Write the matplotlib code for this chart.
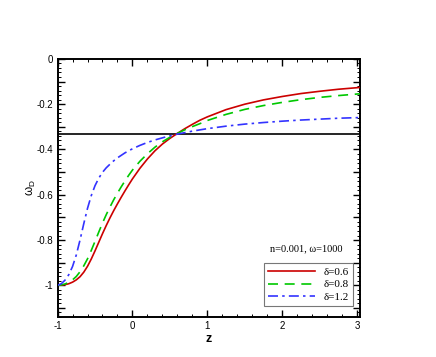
import matplotlib
matplotlib.use("Agg")
import matplotlib.pyplot as plt
from matplotlib.ticker import MultipleLocator, FuncFormatter

# ---- data ----
z_red = [-1.0, -0.95, -0.9, -0.85, -0.8, -0.75, -0.7, -0.65, -0.6, -0.55, -0.5, -0.45, -0.4,
         -0.35, -0.3, -0.25, -0.2, -0.15, -0.1, -0.05, 0.0, 0.1, 0.2, 0.3, 0.4, 0.5, 0.6, 0.7,
         0.8, 0.9, 1.0, 1.25, 1.5, 1.75, 2.0, 2.25, 2.5, 2.75, 3.04]
w_red = [-1.0, -0.999, -0.997, -0.993, -0.986, -0.976, -0.962, -0.942, -0.916, -0.884, -0.848,
         -0.810, -0.772, -0.736, -0.702, -0.670, -0.640, -0.611, -0.583, -0.556, -0.530, -0.483,
         -0.442, -0.406, -0.376, -0.351, -0.329, -0.308, -0.289, -0.271, -0.256, -0.224, -0.200,
         -0.181, -0.166, -0.153, -0.143, -0.134, -0.126]

z_green = [-1.0, -0.95, -0.9, -0.85, -0.8, -0.75, -0.7, -0.65, -0.6, -0.55, -0.5, -0.45, -0.4,
           -0.35, -0.3, -0.25, -0.2, -0.15, -0.1, -0.05, 0.0, 0.1, 0.2, 0.3, 0.4, 0.5, 0.6, 0.7,
           0.8, 0.9, 1.0, 1.25, 1.5, 1.75, 2.0, 2.25, 2.5, 2.75, 3.04]
w_green = [-1.0, -0.998, -0.994, -0.987, -0.976, -0.961, -0.940, -0.914, -0.883, -0.846, -0.806,
           -0.765, -0.725, -0.688, -0.654, -0.622, -0.593, -0.565, -0.539, -0.514, -0.491, -0.452,
           -0.419, -0.390, -0.366, -0.346, -0.329, -0.313, -0.299, -0.286, -0.272, -0.245, -0.223,
           -0.206, -0.192, -0.180, -0.170, -0.162, -0.154]

z_blue = [-1.0, -0.95, -0.9, -0.85, -0.8, -0.75, -0.7, -0.65, -0.6, -0.55, -0.5, -0.45, -0.4,
          -0.35, -0.3, -0.25, -0.2, -0.1, 0.0, 0.1, 0.2, 0.3, 0.45, 0.6, 0.8, 1.0, 1.25, 1.5,
          1.75, 2.0, 2.25, 2.5, 2.75, 3.04]
w_blue = [-1.0, -0.993, -0.977, -0.953, -0.917, -0.866, -0.800, -0.728, -0.660, -0.604, -0.560,
          -0.527, -0.501, -0.481, -0.465, -0.450, -0.437, -0.415, -0.397, -0.382, -0.369, -0.358,
          -0.344, -0.332, -0.319, -0.308, -0.297, -0.288, -0.281, -0.275, -0.270, -0.266, -0.262,
          -0.259]

w_ref = -1.0 / 3.0
labels = ["δ=0.6", "δ=0.8", "δ=1.2"]
annot = "n=0.001, ω=1000"

# ---- figure ----
fig = plt.figure(figsize=(4.36, 3.57), dpi=100)
ax = fig.add_axes([0.132, 0.112, 0.694, 0.723])

ax.axhline(w_ref, color="black", lw=1.2, zorder=1)
ax.plot(z_red, w_red, color="#cc0000", lw=1.2, ls="-", label=labels[0], zorder=3)
ax.plot(z_green, w_green, color="#00c800", lw=1.2, ls=(0, (6, 4)), label=labels[1], zorder=3)
ax.plot(z_blue, w_blue, color="#3333ff", lw=1.2, ls=(0, (6, 2.5, 1.5, 2.5)), label=labels[2], zorder=3)

ax.set_xlim(-1, 3.04)
ax.set_ylim(-1.14, 0)

ax.xaxis.set_major_locator(MultipleLocator(1))
ax.xaxis.set_minor_locator(MultipleLocator(0.2))
ax.yaxis.set_major_locator(MultipleLocator(0.1))
ax.yaxis.set_minor_locator(MultipleLocator(0.02))


def yfmt(v, pos):
    k = int(round(v * 10))
    if k % 2 != 0:
        return ""
    if k == 0:
        return "0"
    if k == -10:
        return "-1"
    return "%g" % (k / 10.0)


ax.yaxis.set_major_formatter(FuncFormatter(yfmt))
ax.xaxis.set_major_formatter(FuncFormatter(lambda v, p: "%d" % round(v)))

ax.tick_params(which="both", direction="in", top=True, right=True,
               labelsize=7, pad=3)
ax.tick_params(which="major", length=5, width=1.0)
ax.tick_params(which="minor", length=2.5, width=0.7)
for lab in ax.get_xticklabels() + ax.get_yticklabels():
    lab.set_fontfamily("Liberation Sans")

for s in ax.spines.values():
    s.set_linewidth(1.4)

ax.set_xlabel("z", fontsize=9, fontweight="bold", family="Liberation Sans", labelpad=1)
ax.set_ylabel(r"$\mathregular{\omega_D}$", fontsize=8.5, family="Liberation Sans", labelpad=-1)

ax.text(0.823, 0.266, annot, transform=ax.transAxes, ha="center", va="center",
        fontsize=7.5, family="Liberation Serif")

leg = ax.legend(loc="lower right", bbox_to_anchor=(0.975, 0.043),
                prop={"family": "Liberation Serif", "size": 8},
                frameon=True, fancybox=False, edgecolor="#555555",
                handlelength=4.2, handletextpad=0.8, borderpad=0.35,
                labelspacing=0.25, borderaxespad=0.0)
leg.get_frame().set_linewidth(0.8)

fig.savefig("out.png", dpi=100)
